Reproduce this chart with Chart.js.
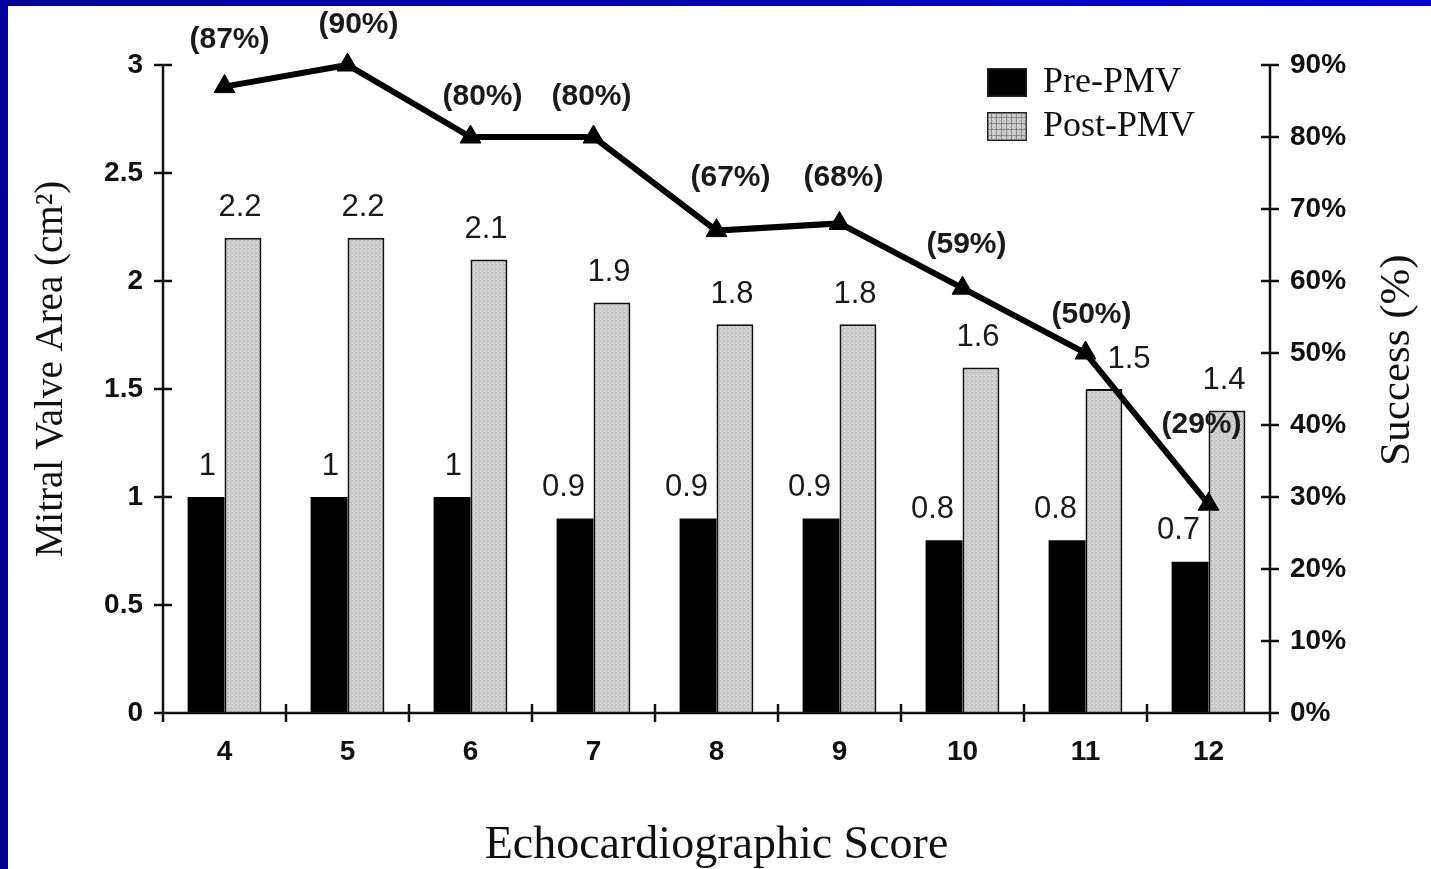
<!DOCTYPE html>
<html>
<head>
<meta charset="utf-8">
<title>Mitral valve area by echocardiographic score</title>
<script src="https://cdn.jsdelivr.net/npm/chart.js@4.4.1/dist/chart.umd.min.js"></script>
<style>
  html, body { margin: 0; padding: 0; background: #fff; }
  #wrap { position: relative; width: 1431px; height: 869px; overflow: hidden; background: #fff; }
  .band-top { position: absolute; left: 0; top: 0; width: 1431px; height: 6px;
              background: linear-gradient(90deg, #00009a, #0000d4); }
  .band-left { position: absolute; left: 0; top: 0; width: 8px; height: 869px;
               background: linear-gradient(180deg, #00009e, #00008a); }
  canvas { position: absolute; left: 0; top: 0; }
</style>
</head>
<body>
<div id="wrap">
  <div class="band-top"></div>
  <div class="band-left"></div>
  <canvas id="chart" width="1431" height="869"></canvas>
</div>
<script>
// Echocardiographic score groups
const scores = ['4', '5', '6', '7', '8', '9', '10', '11', '12'];
// Mitral valve area (cm²) before and after PMV
const prePMV = [1, 1, 1, 0.9, 0.9, 0.9, 0.8, 0.8, 0.7];
const postPMV = [2.2, 2.2, 2.1, 1.9, 1.8, 1.8, 1.6, 1.5, 1.4];
// Procedural success (%)
const successRate = [87, 90, 80, 80, 67, 68, 59, 50, 29];
const seriesNames = ['Pre-PMV', 'Post-PMV'];

const SANS = '"Liberation Sans", Arial, sans-serif';
const SERIF = '"Liberation Serif", "Times New Roman", serif';

const canvas = document.getElementById('chart');
const ctx = canvas.getContext('2d');

// Fine stippled grey used for the post-PMV bars
function stipple() {
  const c = document.createElement('canvas');
  c.width = 4; c.height = 4;
  const g = c.getContext('2d');
  g.fillStyle = '#cdcdcd';
  g.fillRect(0, 0, 4, 4);
  g.fillStyle = '#b6b6b6';
  g.fillRect(0, 0, 1, 1); g.fillRect(2, 2, 1, 1); g.fillRect(3, 0, 1, 1);
  g.fillStyle = '#e0e0e0';
  g.fillRect(1, 2, 1, 1); g.fillRect(2, 0, 1, 1); g.fillRect(0, 3, 1, 1);
  return ctx.createPattern(c, 'repeat');
}
const postFill = stipple();

// Axis lines, crossing tick marks, value labels, legend and side titles
const decorations = {
  id: 'decorations',
  afterDatasetsDraw(chart, args, opts) {
    const { ctx, chartArea: a, scales: { x, y, y2 } } = chart;
    ctx.save();

    // axes with ticks that cross the axis line
    ctx.strokeStyle = '#111';
    ctx.lineWidth = 2.5;
    ctx.beginPath();
    ctx.moveTo(a.left, a.top - 1); ctx.lineTo(a.left, a.bottom + 8);
    ctx.moveTo(a.right, a.top - 1); ctx.lineTo(a.right, a.bottom + 8);
    ctx.moveTo(a.left - 8, a.bottom); ctx.lineTo(a.right + 8, a.bottom);
    y.ticks.forEach((t, i) => {
      const p = y.getPixelForTick(i);
      ctx.moveTo(a.left - 9, p); ctx.lineTo(a.left + 9, p);
    });
    y2.ticks.forEach((t, i) => {
      const p = y2.getPixelForTick(i);
      ctx.moveTo(a.right - 9, p); ctx.lineTo(a.right + 9, p);
    });
    const n = x.ticks.length;
    for (let i = 0; i <= n; i++) {
      const p = x.left + x.width * i / n;
      ctx.moveTo(p, a.bottom - 9); ctx.lineTo(p, a.bottom + 9);
    }
    ctx.stroke();

    // bar value labels
    ctx.fillStyle = '#1a1a1a';
    ctx.font = '31px ' + SANS;
    ctx.textBaseline = 'middle';
    [0, 1].forEach(di => {
      const meta = chart.getDatasetMeta(di);
      const vals = chart.data.datasets[di].data;
      meta.data.forEach((bar, i) => {
        const shift = (opts.barShift[di] && opts.barShift[di][i]) || 0;
        if (di === 0) {
          ctx.textAlign = 'right';
          ctx.fillText(String(vals[i]), bar.x + 10 + shift, bar.y - 31);
        } else {
          ctx.textAlign = 'center';
          ctx.fillText(String(vals[i]), bar.x - 3 + shift, bar.y - 30);
        }
      });
    });

    // success percentage labels
    ctx.font = 'bold 30px ' + SANS;
    ctx.textAlign = 'center';
    const lineMeta = chart.getDatasetMeta(2);
    const rates = chart.data.datasets[2].data;
    lineMeta.data.forEach((pt, i) => {
      const off = opts.rateOffsets[i] || [6, -44];
      ctx.fillText('(' + rates[i] + '%)', pt.x + off[0], pt.y + off[1]);
    });

    // legend
    const lx = 987, ly = 68;
    ctx.font = '36px ' + SERIF;
    ctx.textAlign = 'left';
    chart.data.datasets.slice(0, 2).forEach((ds, i) => {
      const top = ly + i * 44;
      ctx.fillStyle = ds.backgroundColor;
      ctx.fillRect(lx, top, 40, 29);
      ctx.lineWidth = 1.5;
      ctx.strokeStyle = '#222';
      ctx.strokeRect(lx + 0.75, top + 0.75, 38.5, 27.5);
      if (i === 1) {
        ctx.strokeStyle = 'rgba(90,90,90,0.55)';
        ctx.lineWidth = 1;
        ctx.beginPath();
        for (let gx = lx + 4; gx < lx + 40; gx += 5) { ctx.moveTo(gx + 0.5, top + 2); ctx.lineTo(gx + 0.5, top + 27); }
        for (let gy = top + 5; gy < top + 29; gy += 6) { ctx.moveTo(lx + 2, gy + 0.5); ctx.lineTo(lx + 38, gy + 0.5); }
        ctx.stroke();
      }
      ctx.fillStyle = '#111';
      ctx.fillText(ds.label, lx + 56, top + 15);
    });

    // vertical axis titles, both reading bottom to top
    ctx.fillStyle = '#111';
    ctx.textAlign = 'center';
    ctx.font = '39px ' + SERIF;
    ctx.save();
    ctx.translate(52, 369);
    ctx.rotate(-Math.PI / 2);
    ctx.fillText('Mitral Valve Area (cm²)', 0, 0);
    ctx.restore();
    ctx.font = '43px ' + SERIF;
    ctx.save();
    ctx.translate(1398, 360);
    ctx.rotate(-Math.PI / 2);
    ctx.fillText('Success (%)', 0, 0);
    ctx.restore();

    ctx.restore();
  }
};

const tickFont = { family: SANS, size: 28, weight: 'bold' };

new Chart(ctx, {
  type: 'bar',
  data: {
    labels: scores,
    datasets: [
      { label: seriesNames[0], data: prePMV, yAxisID: 'y', order: 1,
        backgroundColor: '#000', borderColor: '#000', borderWidth: 0,
        categoryPercentage: 0.6, barPercentage: 1 },
      { label: seriesNames[1], data: postPMV, yAxisID: 'y', order: 2,
        backgroundColor: postFill, borderColor: '#111', borderWidth: 2, borderSkipped: 'bottom',
        categoryPercentage: 0.6, barPercentage: 1 },
      { type: 'line', label: 'Success', data: successRate, yAxisID: 'y2', order: 0,
        clip: false,
        borderColor: '#000', borderWidth: 6, tension: 0,
        pointStyle: 'triangle', pointRadius: 12, pointBackgroundColor: '#000',
        pointBorderColor: '#000', pointBorderWidth: 1 }
    ]
  },
  options: {
    responsive: false,
    animation: false,
    layout: { padding: { top: 65, left: 0, right: 0, bottom: 0 } },
    plugins: {
      legend: { display: false },
      tooltip: { enabled: false },
      decorations: {
        barShift: { 1: { 7: 28 } },
        rateOffsets: {
          0: [5, -47], 1: [11, -40], 2: [12, -40], 3: [-2, -40], 4: [14, -53],
          5: [4, -46], 6: [4, -43], 7: [6, -38], 8: [-7, -79]
        }
      }
    },
    scales: {
      x: {
        grid: { display: false },
        border: { display: false },
        ticks: { color: '#111', font: tickFont, padding: 14 },
        title: { display: true, text: 'Echocardiographic Score', color: '#111',
                 font: { family: SERIF, size: 46, lineHeight: 1 }, padding: { top: 0, bottom: 0 } },
        afterFit(s) { s.height = 156; }
      },
      y: {
        position: 'left', min: 0, max: 3,
        grid: { display: false },
        border: { display: false },
        ticks: { stepSize: 0.5, color: '#111', padding: 12, font: tickFont,
                 callback: v => String(v) },
        afterFit(s) { s.width = 163; }
      },
      y2: {
        position: 'right', min: 0, max: 90,
        grid: { display: false },
        border: { display: false },
        ticks: { stepSize: 10, color: '#111', padding: 12, font: tickFont,
                 callback: v => v + '%' },
        afterFit(s) { s.width = 161; }
      }
    }
  },
  plugins: [decorations]
});
</script>
</body>
</html>
